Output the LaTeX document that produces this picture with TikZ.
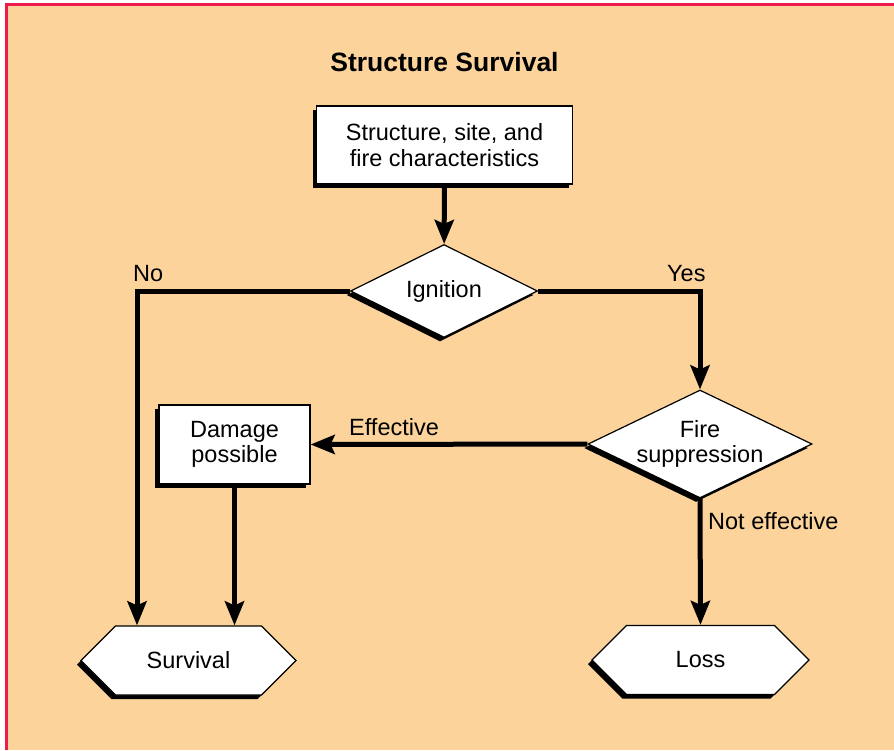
\documentclass[tikz,border=0pt]{standalone}
\usepackage{fontspec}
\setmainfont{Liberation Sans}
\usetikzlibrary{shapes.geometric,shapes.symbols,shadows,arrows.meta}
\definecolor{paper}{RGB}{251,211,155}
\definecolor{edge}{RGB}{236,27,76}

\tikzset{
  txt/.style={font=\fontsize{23.5}{25.5}\selectfont},
  shade/.style={drop shadow={shadow xshift=-4pt,shadow yshift=-4pt,fill=black,opacity=1}},
  box/.style={txt, draw=black, line width=1.2pt, fill=white, shade, align=center, inner sep=0pt},
  choice/.style={box, diamond, aspect=2.07, inner sep=-3pt},
  endbox/.style={box, signal, signal to=west and east, signal pointer angle=90},
  flow/.style={line width=5pt, -{Stealth[length=24pt,width=19pt,inset=4pt]}},
  lbl/.style={txt, anchor=base west, inner sep=0pt}
}

\begin{document}
\begin{tikzpicture}[x=1pt,y=-1pt]
  \useasboundingbox (0,0) rectangle (894,750);
  \fill[white] (0,0) rectangle (894,750);
  \fill[paper] (5,3) rectangle (894,750);
  \draw[edge, line width=2.8pt] (6.4,750) -- (6.4,4.6) -- (894,4.6);

  \node[anchor=base, font=\bfseries\fontsize{26.5}{30}\selectfont] (title) at (444.5,71.5) {Structure Survival};

  % boxes
  \node[box, minimum width=256pt, minimum height=78pt] (input) at (444.5,145) {Structure, site, and\\fire characteristics};
  \node[choice, minimum width=187pt, minimum height=93pt] (ignition) at (444,291) {Ignition};
  \node[choice, minimum width=224pt, minimum height=108pt] (suppress) at (700,444) {Fire\\suppression};
  \node[box, minimum width=151pt, minimum height=79pt] (damage) at (234.5,444.5) {Damage\\possible};
  \node[endbox, minimum width=215pt, minimum height=69pt] (survival) at (188.5,660.5) {Survival};
  \node[endbox, minimum width=217pt, minimum height=69pt] (loss) at (700.5,660) {Loss};

  % arrows
  \draw[flow] (input) -- (ignition);
  \draw[flow] (ignition.west) -| ([xshift=-51.5pt]survival.north);
  \draw[flow] (ignition.east) -| (suppress.north);
  \draw[flow] (suppress.west) -- (damage.east);
  \draw[flow] (damage.south) -- (damage.south |- survival.north);
  \draw[flow] (suppress.south) -- (loss.north);

  \node[lbl] (no) at (133,281) {No};
  \node[lbl] (yes) at (667,281) {Yes};
  \node[lbl] (eff) at (349,435) {Effective};
  \node[lbl] (noteff) at (708,529) {Not effective};
\end{tikzpicture}
\end{document}
